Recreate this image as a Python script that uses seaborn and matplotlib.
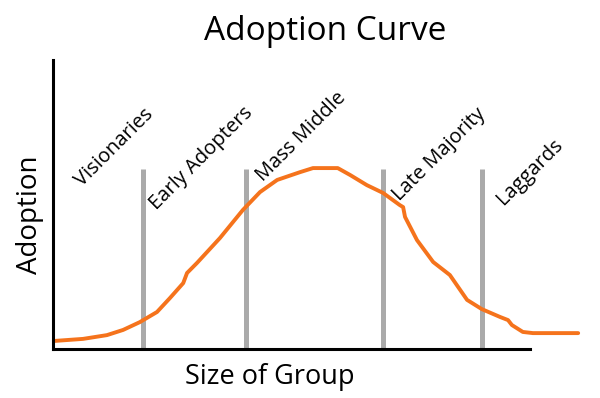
import numpy as np
import pandas as pd
import matplotlib
matplotlib.use('Agg')
import matplotlib.pyplot as plt
import seaborn as sns

sns.set_theme(style='white')
plt.rcParams['font.family'] = ['Open Sans', 'DejaVu Sans']
plt.rcParams['text.color'] = 'black'

# adoption curve (group size 0-100, adoption 0-100)
group_size = [0.4, 6.3, 11.3, 14.7, 18.2, 21.8, 24.5, 27.3, 28.1, 30.2, 35.0, 39.8,
              43.4, 47.0, 51.8, 54.5, 59.7, 62.3, 65.8, 69.2, 72.7, 73.4, 73.8, 76.3,
              79.7, 83.2, 86.8, 89.9, 93.7, 95.4, 96.2, 98.5, 100.6, 104.8, 110.1]
adoption = [2.8, 3.5, 4.8, 6.6, 9.3, 12.8, 17.6, 22.8, 26.3, 29.8, 38.4, 48.1,
            54.3, 58.5, 61.2, 62.6, 62.6, 60.2, 56.7, 54.0, 49.8, 49.1, 45.7, 37.7,
            30.1, 25.6, 17.0, 13.8, 11.1, 10.0, 8.3, 5.9, 5.5, 5.5, 5.5]

# segment boundaries
boundaries = [18.9, 40.5, 69.2, 89.9]
boundary_top = 62.3

# segment names and where each label starts
groups = ['Visionaries', 'Early Adopters', 'Mass Middle', 'Late Majority', 'Laggards']
label_x = [6.0, 21.7, 44.0, 72.7, 94.5]
label_y = [56.0, 48.1, 57.8, 50.9, 49.8]

df = pd.DataFrame({'size': group_size, 'adoption': adoption})

fig = plt.figure(figsize=(6, 3.98), dpi=100)
ax = fig.add_axes([53 / 600, 49 / 398, 477 / 600, 289 / 398])

# gray dividers
ax.vlines(boundaries, 0, boundary_top, color='#aaaaaa', linewidth=3.6, zorder=1)

# the curve
sns.lineplot(data=df, x='size', y='adoption', ax=ax, color='#f5731c',
             linewidth=2.8, sort=False, clip_on=False, zorder=2)

for name, lx, ly in zip(groups, label_x, label_y):
    ax.text(lx, ly, name, rotation=45, rotation_mode='anchor', ha='left',
            va='baseline', fontsize=14.5, color='black')

ax.set_xlim(0, 100)
ax.set_ylim(0, 100)
ax.set_xticks([])
ax.set_yticks([])
ax.set_xlabel('')
ax.set_ylabel('')
for side in ['top', 'right']:
    ax.spines[side].set_visible(False)
for side in ['left', 'bottom']:
    ax.spines[side].set_color('black')
    ax.spines[side].set_linewidth(2.2)

fig.text(270 / 600, 1 - 377 / 398, 'Size of Group', ha='center', va='center', fontsize=19.5)
fig.text(30 / 600, 1 - 215 / 398, 'Adoption', ha='center', va='center', rotation=90, fontsize=20)
fig.text(325 / 600, 1 - 31 / 398, 'Adoption Curve', ha='center', va='center', fontsize=24)

fig.savefig('out.png', dpi=100)
